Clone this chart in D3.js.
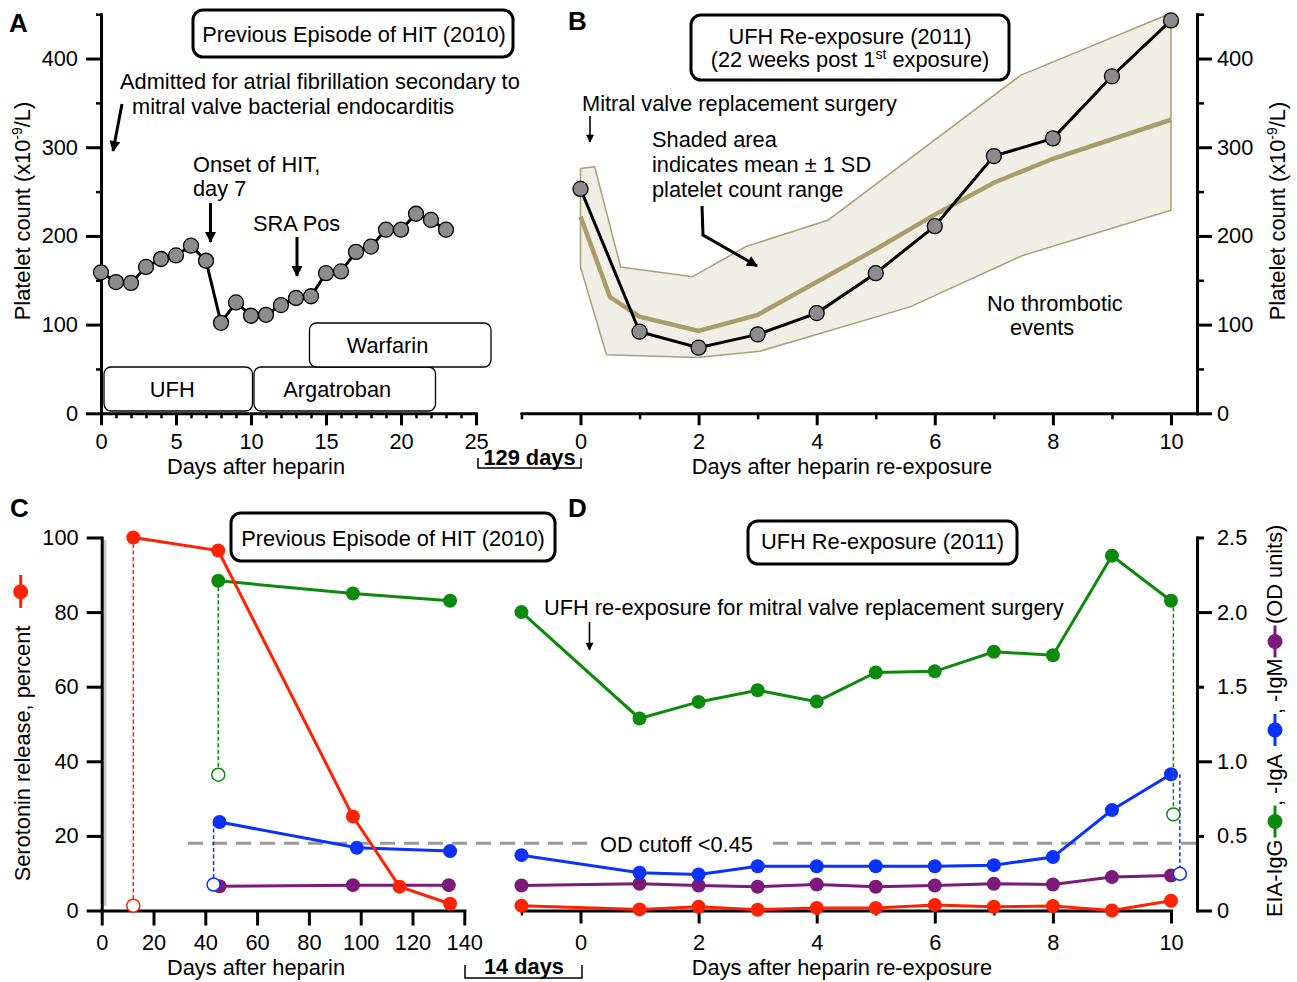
<!DOCTYPE html>
<html><head><meta charset="utf-8">
<script src="https://cdn.jsdelivr.net/npm/d3@7"></script>
<style>
body{margin:0;background:#fff;}
text{font-family:"Liberation Sans",Arial,Helvetica,sans-serif;}
</style></head><body>
<script>
// ---------------- DATA ----------------
// Panel A: platelet count, previous HIT episode (2010)
const daysA = [0,1,2,3,4,5,6,7,8,9,10,11,12,13,14,15,16,17,18,19,20,21,22,23];
const plateletA = [159,148,147,165,174,178,189,172,102,125,110,111,122,130,132,158,160,182,188,207,207,225,218,207];
const treatNames = ["UFH","Argatroban","Warfarin"];
const treatStart = [0.2,10.2,13.9];
const treatEnd = [10.1,22.3,26.0];
const treatLabelDay = [4.75,15.75,19.1];
const treatRow = [0,0,1];
// Panel B: platelet count after UFH re-exposure (2011)
const daysB = [0,1,2,3,4,5,6,7,8,9,10];
const plateletB = [253,92,74,89,113,158,211,290,310,380,443];
const bandUpperDays = [0,0.24,0.68,1.9,2.8,4.2,7.45,10];
const bandUpper = [276,278,165,154,188,218,381,451];
const bandLowerDays = [0,0.44,1.98,3.04,5.58,7.49,10];
const bandLower = [165,66,63,70,120,178,229];
const meanDays = [0,0.5,1,2,3,4,5,6,7,8,10];
const meanB = [222,131,109,93,111,148,185,224,260,287,331];
// Panel C: previous episode, serotonin release (%) and EIA OD
const seroDaysC = [12.2,45,97,115,134.5];
const seroC = [100,96.5,25.2,6.4,1.8];
const igGDaysC = [45,97,134.5];
const igGC = [2.21,2.125,2.076];
const igADaysC = [45.5,98.5,134.5];
const igAC = [0.593,0.42,0.398];
const igMDaysC = [45.5,97,134];
const igMC = [0.163,0.17,0.17];
const seroOpenC = [12.2,1.3];
const igGOpenC = [45,0.91];
const igAOpenC = [43.2,0.174];
// Panel D: re-exposure
const daysD = [-1,1,2,3,4,5,6,7,8,9,10];
const igGD = [2.0,1.287,1.398,1.476,1.40,1.595,1.603,1.734,1.711,2.378,2.076];
const igAD = [0.371,0.253,0.242,0.297,0.297,0.297,0.297,0.304,0.358,0.673,0.913];
const igMD = [0.168,0.179,0.168,0.159,0.174,0.159,0.168,0.179,0.174,0.224,0.235];
const seroD = [1.3,0.3,1.0,0.2,0.7,0.7,1.5,1.0,1.2,0,2.6];
const igGOpenD = [10.04,0.644];
const igAOpenD = [10.15,0.246];
const odCutoff = 0.45;
// Ticks
const yTicksA = [0,100,200,300,400];
const yMinorA = [50,150,250,350,450];
const xTicksA = [0,5,10,15,20,25];
const xMinorA = [1,2,3,4,6,7,8,9,11,12,13,14,16,17,18,19,21,22,23,24];
const xTicksB = [0,2,4,6,8,10];
const xMinorB = [-1,1,3,5,7,9];
const yTicksC = [0,20,40,60,80,100];
const xTicksC = [0,20,40,60,80,100,120,140];
const yTicksOD = [0,0.5,1.0,1.5,2.0,2.5];
const yMajorOD = [0,1.0,2.0];

// ---------------- SETUP ----------------
const W=1297,H=982;
const FONT='"Liberation Sans",Arial,Helvetica,sans-serif';
const FS=21.8;
const RED="#ff2200",GREEN="#0c8a0c",BLUE="#0a32ff",PURPLE="#7b1a7b";
const svg=d3.select("body").append("svg").attr("width",W).attr("height",H)
  .attr("font-family",FONT);

const defs=svg.append("defs");
function marker(id,w,h){
  defs.append("marker").attr("id",id).attr("viewBox","0 0 10 10").attr("refX",9).attr("refY",5)
   .attr("markerUnits","userSpaceOnUse").attr("markerWidth",w).attr("markerHeight",h).attr("orient","auto")
   .append("path").attr("d","M0,0L10,5L0,10z").attr("fill","#000");
}
marker("ahBig",13,11);
marker("ahSmall",9,8);

function txt(x,y,s,o={}){
  return svg.append("text").attr("x",x).attr("y",y).attr("font-size",o.size||FS)
    .attr("font-weight",o.bold?"bold":"normal").attr("text-anchor",o.anchor||"start").attr("fill","#000").text(s);
}
function titleBox(x0,y0,x1,y1){
  svg.append("rect").attr("x",x0).attr("y",y0).attr("width",x1-x0).attr("height",y1-y0)
    .attr("rx",10).attr("fill","#fff").attr("stroke","#000").attr("stroke-width",3);
}
function arrow(pts,big){
  svg.append("path").attr("d",d3.line()(pts)).attr("fill","none").attr("stroke","#000")
   .attr("stroke-width",big?3:1.6).attr("marker-end",`url(#${big?"ahBig":"ahSmall"})`);
}
function styleAxis(g){
  g.attr("font-size",FS).attr("font-family",FONT);
  g.select(".domain").attr("stroke-width",3).attr("stroke-linecap","square");
  g.selectAll(".tick line").attr("stroke-width",3);
  g.selectAll(".tick text").attr("fill","#000");
}
function minorAxis(g){
  g.select(".domain").remove();
  g.selectAll(".tick line").attr("stroke-width",2.5);
}

// ---------------- SCALES ----------------
const xA=d3.scaleLinear().domain([0,25]).range([101,476]);
const yA=d3.scaleLinear().domain([0,450]).range([413.3,14.2]);
const xB=d3.scaleLinear().domain([0,10]).range([580.5,1171]);
const xBax=d3.scaleLinear().domain([-1,xB.invert(1197)]).range([xB(-1),1197]);
const yC=d3.scaleLinear().domain([0,100]).range([910.5,537.5]);
const yOD=d3.scaleLinear().domain([0,2.5]).range([910.5,537.5]);
const xC=d3.scaleLinear().domain([0,140]).range([101.7,464.3]);
const xDax=d3.scaleLinear().domain([-1,10]).range([xB(-1),xB(10)]);

// ================= PANEL A =================
txt(9,31.5,"A",{bold:true,size:26});
// treatment boxes
const rowY=[[367,411],[323,367]];
treatNames.forEach((n,i)=>{
  const y0=rowY[treatRow[i]][0],y1=rowY[treatRow[i]][1];
  svg.append("rect").attr("x",xA(treatStart[i])).attr("y",y0).attr("width",xA(treatEnd[i])-xA(treatStart[i]))
    .attr("height",y1-y0).attr("rx",7).attr("fill","#fff").attr("stroke","#000").attr("stroke-width",1.3);
  txt(xA(treatLabelDay[i]),(y0+y1)/2+7.5,n,{anchor:"middle"});
});
// axes
svg.append("g").attr("transform","translate(101,0)")
  .call(d3.axisLeft(yA).tickValues(yMinorA).tickSize(5).tickFormat("")).call(minorAxis);
svg.append("g").attr("transform","translate(0,413.3)")
  .call(d3.axisBottom(xA).tickValues(xMinorA).tickSize(5).tickFormat("")).call(minorAxis);
svg.append("g").attr("transform","translate(101,0)")
  .call(d3.axisLeft(yA).tickValues(yTicksA).tickSize(15).tickPadding(8).tickSizeOuter(0)).call(styleAxis);
svg.append("g").attr("transform","translate(0,413.3)")
  .call(d3.axisBottom(xA).tickValues(xTicksA).tickSize(12).tickPadding(8).tickSizeOuter(0)).call(styleAxis);
// line + points
const ptsA=daysA.map((d,i)=>[d,plateletA[i]]);
svg.append("path").attr("d",d3.line().x(d=>xA(d[0])).y(d=>yA(d[1]))(ptsA))
  .attr("fill","none").attr("stroke","#000").attr("stroke-width",3);
svg.append("g").selectAll("circle").data(ptsA).join("circle")
  .attr("cx",d=>xA(d[0])).attr("cy",d=>yA(d[1])).attr("r",7.5)
  .attr("fill","#8c8c8c").attr("stroke","#000").attr("stroke-width",1.3);
// annotations
titleBox(193,10,513,57);
txt(354,42,"Previous Episode of HIT (2010)",{anchor:"middle"});
txt(120,89,"Admitted for atrial fibrillation secondary to");
txt(132,113.5,"mitral valve bacterial endocarditis");
arrow([[122,104],[113,151]],true);
txt(193,172,"Onset of HIT,");
txt(193,195.5,"day 7");
arrow([[210.5,203],[210.5,242]],true);
txt(253,230.5,"SRA Pos");
arrow([[297,237],[297,276]],true);
// axis labels
svg.append("text").attr("transform","translate(29.5,211) rotate(-90)").attr("text-anchor","middle")
  .attr("font-size",FS).html('Platelet count (x10<tspan dy="-8" font-size="14">-9</tspan><tspan dy="8">/L)</tspan>');
txt(256,474,"Days after heparin",{anchor:"middle"});
// 129 days bracket
svg.append("path").attr("d","M478,458V468H581V458").attr("fill","none").attr("stroke","#000").attr("stroke-width",1.5);
txt(529.5,465,"129 days",{anchor:"middle",bold:true});

// ================= PANEL B =================
txt(568,30,"B",{bold:true,size:26});
// band
const upperPts=bandUpperDays.map((d,i)=>[d,bandUpper[i]]);
const lowerPts=bandLowerDays.map((d,i)=>[d,bandLower[i]]).reverse();
svg.append("path").attr("d",d3.line().x(d=>xB(d[0])).y(d=>yA(d[1]))(upperPts.concat(lowerPts))+"Z")
  .attr("fill","#f1eee5").attr("stroke","#a9a075").attr("stroke-width",1.5).attr("stroke-linejoin","round");
svg.append("path").attr("d",d3.line().x(d=>xB(d[0])).y(d=>yA(d[1]))(meanDays.map((d,i)=>[d,meanB[i]])))
  .attr("fill","none").attr("stroke","#a89e6c").attr("stroke-width",4.5);
// axes
svg.append("g").attr("transform","translate(0,413.3)")
  .call(d3.axisBottom(xBax).tickValues(xMinorB).tickSize(6).tickFormat("")).call(minorAxis);
svg.append("g").attr("transform","translate(0,413.3)")
  .call(d3.axisBottom(xBax).tickValues(xTicksB).tickSize(12).tickPadding(8.5).tickSizeOuter(0)).call(styleAxis);
svg.append("g").attr("transform","translate(1197,0)")
  .call(d3.axisRight(yA).tickValues(yMinorA).tickSize(7).tickFormat("")).call(minorAxis);
svg.append("g").attr("transform","translate(1197,0)")
  .call(d3.axisRight(yA).tickValues(yTicksA).tickSize(15).tickPadding(5).tickSizeOuter(0)).call(styleAxis);
// line + points
const ptsB=daysB.map((d,i)=>[d,plateletB[i]]);
svg.append("path").attr("d",d3.line().x(d=>xB(d[0])).y(d=>yA(d[1]))(ptsB))
  .attr("fill","none").attr("stroke","#000").attr("stroke-width",3);
svg.append("g").selectAll("circle").data(ptsB).join("circle")
  .attr("cx",d=>xB(d[0])).attr("cy",d=>yA(d[1])).attr("r",7.5)
  .attr("fill","#8c8c8c").attr("stroke","#000").attr("stroke-width",1.3);
// annotations
titleBox(691,15,1009,80);
txt(850,43.5,"UFH Re-exposure (2011)",{anchor:"middle"});
svg.append("text").attr("x",850).attr("y",67).attr("text-anchor","middle").attr("font-size",FS)
  .html('(22 weeks post 1<tspan dy="-8" font-size="14">st</tspan><tspan dy="8"> exposure)</tspan>');
txt(582,110.5,"Mitral valve replacement surgery");
arrow([[590,116],[590,142]],false);
txt(652,147,"Shaded area");
txt(652,172,"indicates mean \u00b1 1 SD");
txt(652,197,"platelet count range");
arrow([[702,206],[703,235],[757,266]],true);
txt(987,310.5,"No thrombotic");
txt(1010,335,"events");
svg.append("text").attr("transform","translate(1285,211) rotate(-90)").attr("text-anchor","middle")
  .attr("font-size",FS).html('Platelet count (x10<tspan dy="-8" font-size="14">-9</tspan><tspan dy="8">/L)</tspan>');
txt(842,474,"Days after heparin re-exposure",{anchor:"middle"});

// ================= PANEL C =================
txt(10,516.5,"C",{bold:true,size:26});
// gray shadow beside axis
svg.append("line").attr("x1",105).attr("x2",105).attr("y1",540).attr("y2",906).attr("stroke","#c8c8c8").attr("stroke-width",3);
svg.append("g").attr("transform","translate(101.7,0)")
  .call(d3.axisLeft(yC).tickValues(yTicksC).tickSize(15).tickPadding(8).tickSizeOuter(0)).call(styleAxis);
svg.append("g").attr("transform","translate(0,910.5)")
  .call(d3.axisBottom(xC).tickValues(xTicksC).tickSize(15).tickPadding(9).tickSizeOuter(0)).call(styleAxis);
// OD cutoff dashed line (with gap for label)
[[188,588],[773,1197]].forEach(s=>{
  svg.append("line").attr("x1",s[0]).attr("x2",s[1]).attr("y1",yOD(odCutoff)).attr("y2",yOD(odCutoff))
   .attr("stroke","#9a9a9a").attr("stroke-width",3).attr("stroke-dasharray","15,9");
});
txt(600,852,"OD cutoff <0.45");

function series(xs,ys,days,vals,color){
  const pts=days.map((d,i)=>[d,vals[i]]);
  svg.append("path").attr("d",d3.line().x(d=>xs(d[0])).y(d=>ys(d[1]))(pts))
    .attr("fill","none").attr("stroke",color).attr("stroke-width",3);
  svg.append("g").selectAll("circle").data(pts).join("circle")
    .attr("cx",d=>xs(d[0])).attr("cy",d=>ys(d[1])).attr("r",7).attr("fill",color);
}
function dropLine(xs,ys,xday,fromVal,toVal,color){
  svg.append("line").attr("x1",xs(xday)).attr("x2",xs(xday)).attr("y1",ys(fromVal)).attr("y2",ys(toVal))
    .attr("stroke",color).attr("stroke-width",1.5).attr("stroke-dasharray","4,2.5");
}
function openPt(xs,ys,p,color){
  svg.append("circle").attr("cx",xs(p[0])).attr("cy",ys(p[1])).attr("r",6.5)
    .attr("fill","#fff").attr("stroke",color).attr("stroke-width",1.5);
}
series(xC,yOD,igMDaysC,igMC,PURPLE);
series(xC,yOD,igADaysC,igAC,BLUE);
series(xC,yOD,igGDaysC,igGC,GREEN);
series(xC,yC,seroDaysC,seroC,RED);
dropLine(xC,yC,seroOpenC[0],seroC[0],seroOpenC[1],RED);
dropLine(xC,yOD,igGOpenC[0],igGC[0],igGOpenC[1],GREEN);
dropLine(xC,yOD,igAOpenC[0],igAC[0],igAOpenC[1],BLUE);
openPt(xC,yC,seroOpenC,RED);
openPt(xC,yOD,igGOpenC,GREEN);
openPt(xC,yOD,igAOpenC,BLUE);

titleBox(231,513,555,561);
txt(393,545.5,"Previous Episode of HIT (2010)",{anchor:"middle"});
// left axis label with red legend symbol
svg.append("text").attr("transform","translate(29.5,753.5) rotate(-90)").attr("text-anchor","middle")
  .attr("font-size",FS).text("Serotonin release, percent");
svg.append("line").attr("x1",20.7).attr("x2",20.7).attr("y1",575).attr("y2",608).attr("stroke",RED).attr("stroke-width",3);
svg.append("circle").attr("cx",20.7).attr("cy",591.7).attr("r",7.5).attr("fill",RED);
txt(256,975,"Days after heparin",{anchor:"middle"});
// 14 days bracket
svg.append("path").attr("d","M465,965V978H582V965").attr("fill","none").attr("stroke","#000").attr("stroke-width",1.5);
txt(524,973.5,"14 days",{anchor:"middle",bold:true});

// ================= PANEL D =================
txt(568,516.5,"D",{bold:true,size:26});
svg.append("g").attr("transform","translate(0,910.5)")
  .call(d3.axisBottom(xDax).tickValues(xMinorB).tickSize(5).tickFormat("")).call(minorAxis);
svg.append("g").attr("transform","translate(0,910.5)")
  .call(d3.axisBottom(xDax).tickValues(xTicksB).tickSize(13).tickPadding(11).tickSizeOuter(0)).call(styleAxis);
const gR=svg.append("g").attr("transform","translate(1197,0)")
  .call(d3.axisRight(yOD).tickValues(yTicksOD).tickSize(15).tickPadding(5).tickSizeOuter(0)
    .tickFormat(d=>d===0?"0":d3.format(".1f")(d))).call(styleAxis);
gR.selectAll(".tick line").filter(d=>!yMajorOD.includes(d)).attr("x2",7);

series(xB,yOD,daysD,igMD,PURPLE);
series(xB,yOD,daysD,igAD,BLUE);
series(xB,yOD,daysD,igGD,GREEN);
series(xB,yC,daysD,seroD,RED);
dropLine(xB,yOD,igGOpenD[0],igGD[igGD.length-1],igGOpenD[1],GREEN);
dropLine(xB,yOD,igAOpenD[0],igAD[igAD.length-1],igAOpenD[1],BLUE);
openPt(xB,yOD,igGOpenD,GREEN);
openPt(xB,yOD,igAOpenD,BLUE);

titleBox(748,521,1017,564);
txt(882.5,549,"UFH Re-exposure (2011)",{anchor:"middle"});
txt(544,615,"UFH re-exposure for mitral valve replacement surgery");
arrow([[589.5,622],[589.5,650]],false);
txt(842,975,"Days after heparin re-exposure",{anchor:"middle"});

// right axis label with inline legend symbols
function rotTxt(y,s){
  svg.append("text").attr("transform",`translate(1282,${y}) rotate(-90)`).attr("font-size",FS).text(s);
}
function legSym(y,color){
  svg.append("line").attr("x1",1275).attr("x2",1275).attr("y1",y-16).attr("y2",y+16).attr("stroke",color).attr("stroke-width",3);
  svg.append("circle").attr("cx",1275).attr("cy",y).attr("r",7.5).attr("fill",color);
}
rotTxt(917,"EIA-IgG");
legSym(821.5,GREEN);
rotTxt(806,", -IgA");
legSym(730,BLUE);
rotTxt(714,", -IgM");
legSym(641.5,PURPLE);
rotTxt(624,"(OD units)");
</script>
</body></html>
